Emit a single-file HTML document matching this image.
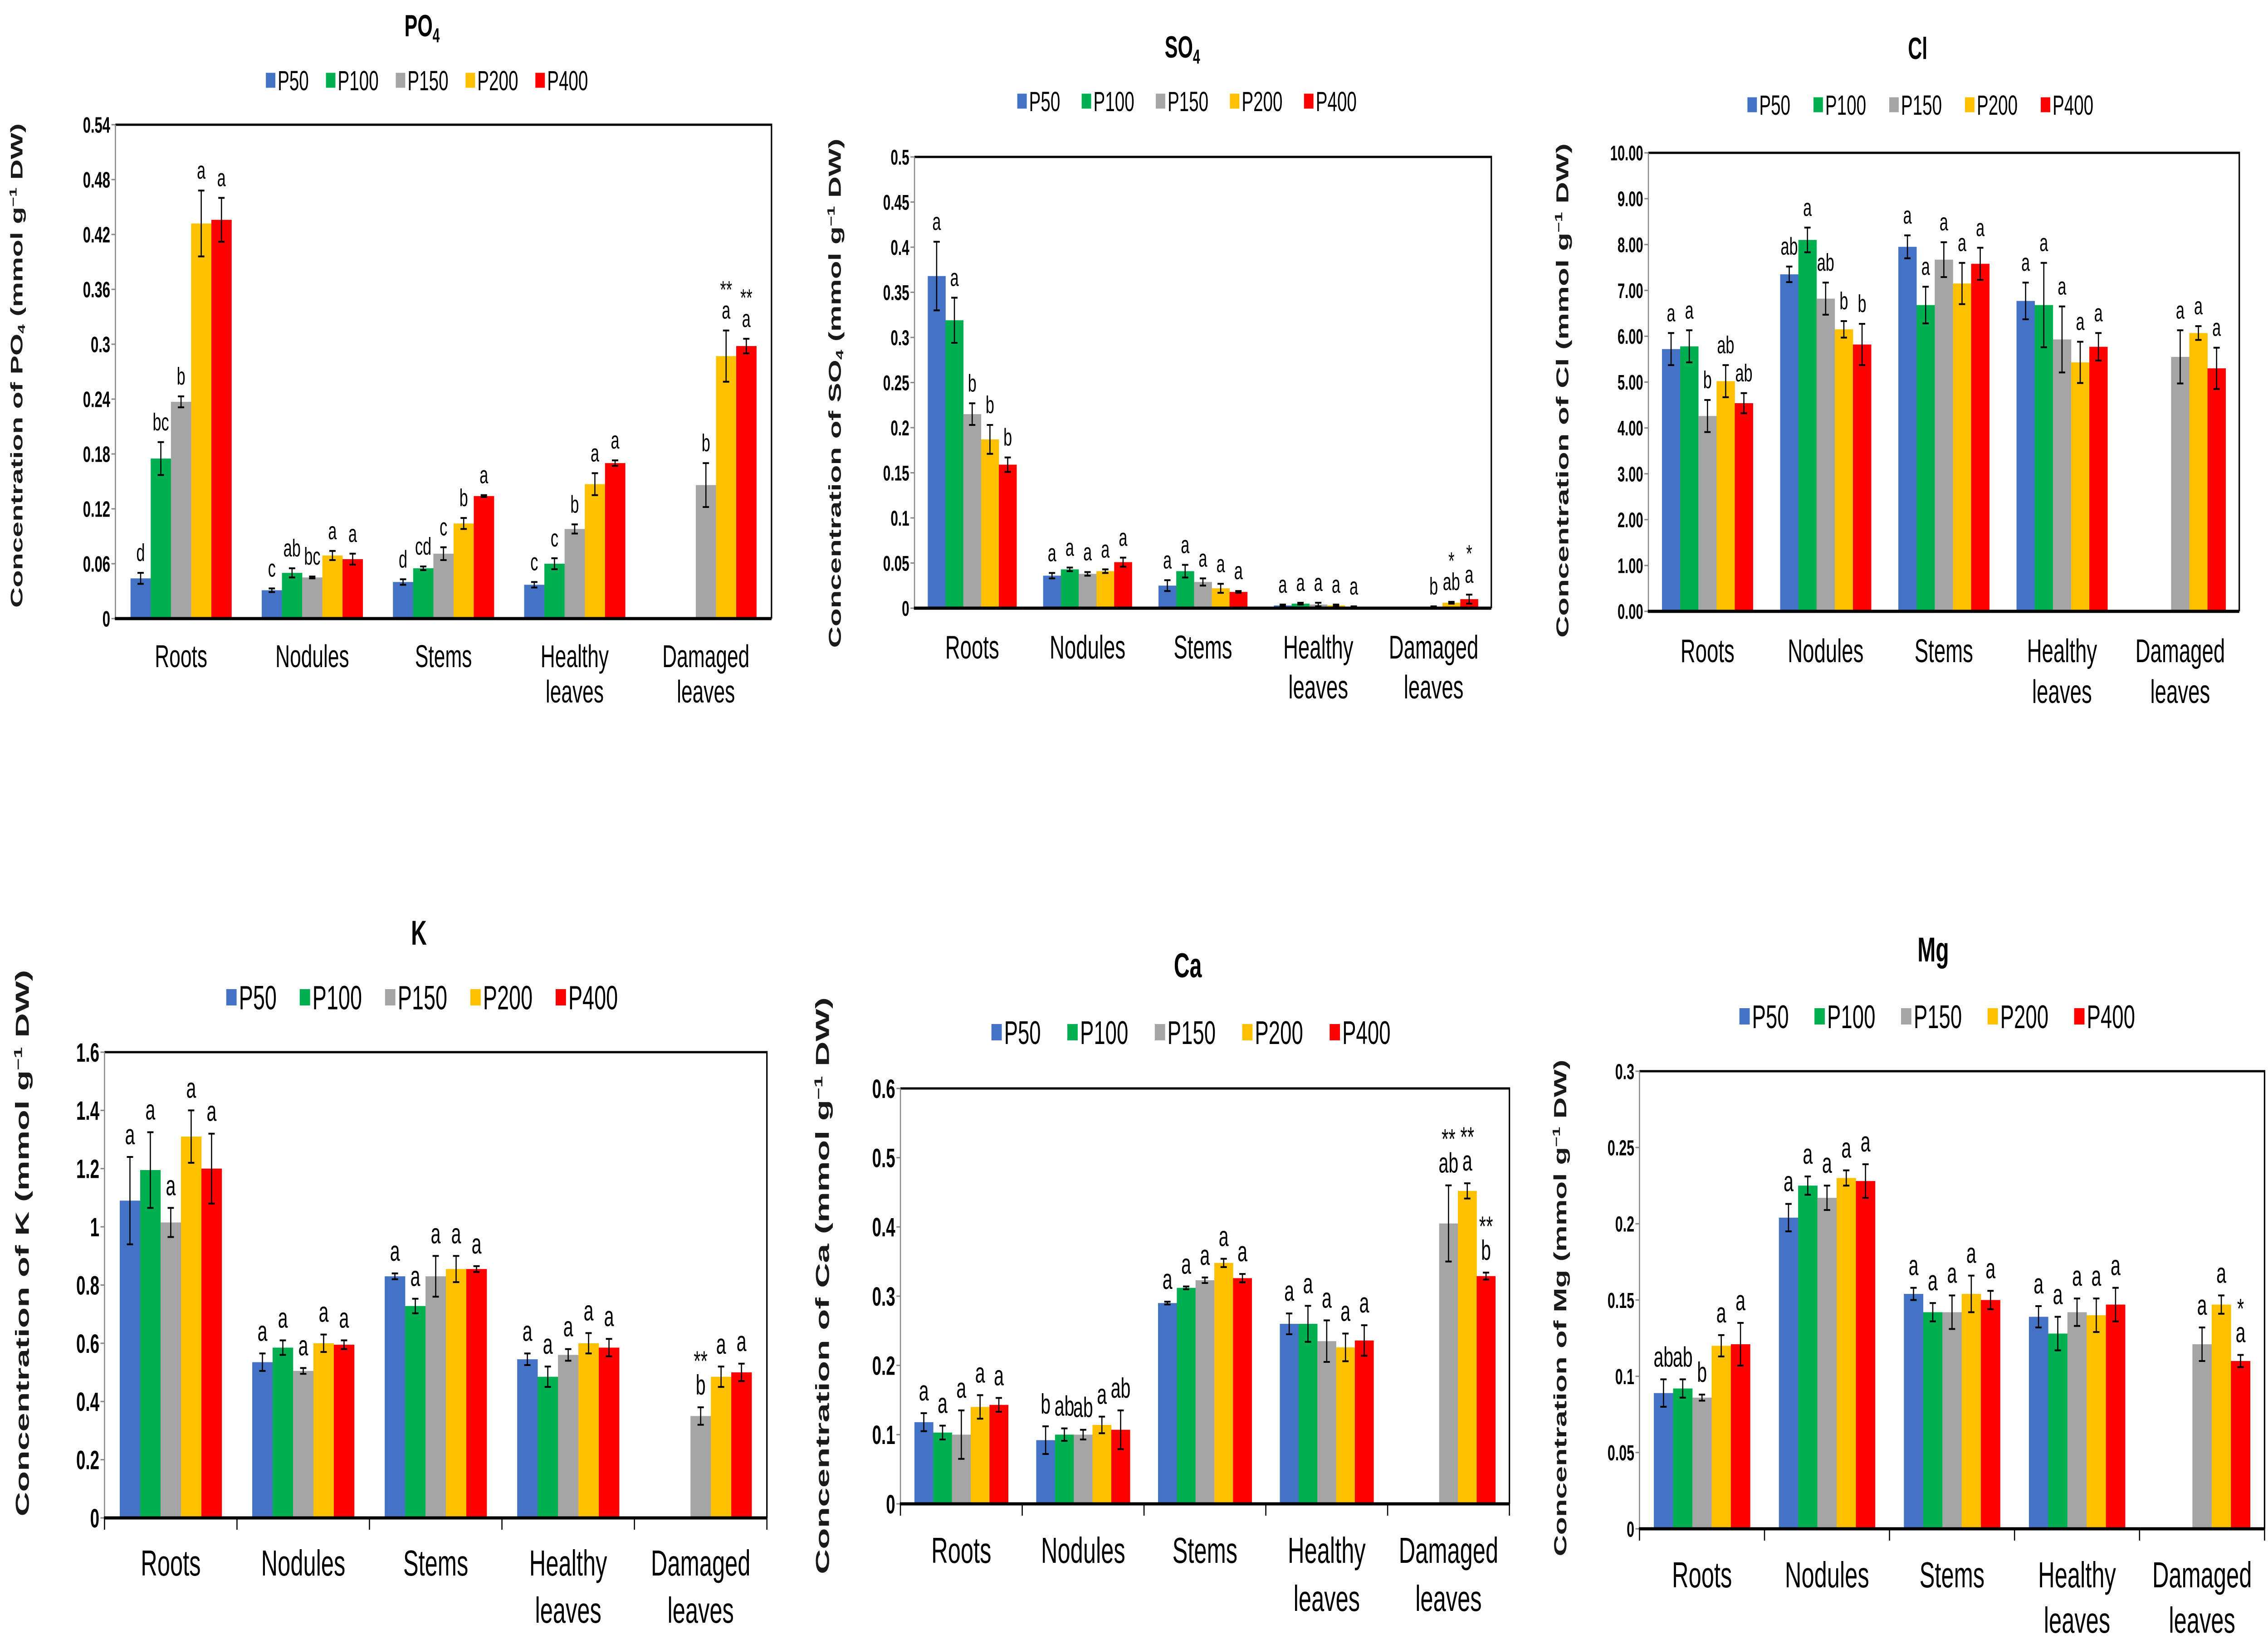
<!DOCTYPE html>
<html><head><meta charset="utf-8"><style>
html,body{margin:0;padding:0;background:#fff;overflow:hidden;width:100%;height:100%}
svg{display:block;position:absolute;left:0;top:0;width:100vw;height:100vh}
text{font-family:"Liberation Sans",Arial,sans-serif}
</style></head><body>
<svg id="fig" xmlns="http://www.w3.org/2000/svg" viewBox="0 0 7899 3625" preserveAspectRatio="none">
<rect x="0" y="0" width="7899" height="3625" fill="#fff"/>
</svg>
<script>
// ---- shared data ----
const categories = [["Roots"],["Nodules"],["Stems"],["Healthy","leaves"],["Damaged","leaves"]];
const seriesNames = ["P50","P100","P150","P200","P400"];
const seriesColors = ["#4472C4","#00B050","#A5A5A5","#FFC000","#FF0000"];

// ---- PO4 ----
const po4Ticks = ["0","0.06","0.12","0.18","0.24","0.3","0.36","0.42","0.48","0.54"];
const po4Values = [[0.044,0.175,0.237,0.432,0.436],[0.031,0.050,0.045,0.069,0.065],[0.040,0.055,0.071,0.104,0.134],[0.037,0.060,0.098,0.147,0.170],[null,null,0.146,0.287,0.298]];
const po4Errors = [[0.006,0.018,0.006,0.036,0.024],[0.002,0.005,0.001,0.005,0.006],[0.003,0.002,0.007,0.006,0.001],[0.003,0.006,0.005,0.012,0.003],[null,null,0.024,0.028,0.008]];
const po4Letters = [["d","bc","b","a","a"],["c","ab","bc","a","a"],["d","cd","c","b","a"],["c","c","b","a","a"],["","","b","a","a"]];
const po4Stars = [["","","","",""],["","","","",""],["","","","",""],["","","","",""],["","","","**","**"]];

// ---- SO4 ----
const so4Ticks = ["0","0.05","0.1","0.15","0.2","0.25","0.3","0.35","0.4","0.45","0.5"];
const so4Values = [[0.368,0.319,0.215,0.187,0.159],[0.036,0.043,0.038,0.041,0.051],[0.025,0.041,0.029,0.022,0.018],[0.003,0.005,0.004,0.003,0.001],[null,null,0.001,0.006,0.010]];
const so4Errors = [[0.038,0.025,0.012,0.016,0.008],[0.003,0.002,0.002,0.002,0.005],[0.006,0.007,0.004,0.005,0.001],[0.001,0.001,0.002,0.001,0.001],[null,null,0.001,0.001,0.005]];
const so4Letters = [["a","a","b","b","b"],["a","a","a","a","a"],["a","a","a","a","a"],["a","a","a","a","a"],["","","b","ab","a"]];
const so4Stars = [["","","","",""],["","","","",""],["","","","",""],["","","","",""],["","","","*","*"]];

// ---- Cl ----
const clTicks = ["0.00","1.00","2.00","3.00","4.00","5.00","6.00","7.00","8.00","9.00","10.00"];
const clValues = [[5.72,5.78,4.26,5.02,4.54],[7.35,8.10,6.82,6.15,5.82],[7.95,6.68,7.67,7.15,7.58],[6.77,6.68,5.93,5.43,5.77],[null,null,5.55,6.07,5.30]];
const clErrors = [[0.35,0.35,0.35,0.35,0.22],[0.17,0.27,0.35,0.18,0.45],[0.25,0.40,0.38,0.45,0.35],[0.40,0.92,0.72,0.45,0.30],[null,null,0.58,0.15,0.45]];
const clLetters = [["a","a","b","ab","ab"],["ab","a","ab","b","b"],["a","a","a","a","a"],["a","a","a","a","a"],["","","a","a","a"]];
const clStars = [["","","","",""],["","","","",""],["","","","",""],["","","","",""],["","","","",""]];

// ---- K ----
const kTicks = ["0","0.2","0.4","0.6","0.8","1","1.2","1.4","1.6"];
const kValues = [[1.09,1.195,1.015,1.31,1.20],[0.535,0.585,0.505,0.60,0.595],[0.83,0.728,0.83,0.855,0.855],[0.545,0.485,0.56,0.60,0.585],[null,null,0.35,0.485,0.50]];
const kErrors = [[0.15,0.13,0.05,0.09,0.12],[0.03,0.025,0.01,0.03,0.015],[0.01,0.025,0.07,0.045,0.01],[0.02,0.035,0.02,0.035,0.03],[null,null,0.03,0.035,0.03]];
const kLetters = [["a","a","a","a","a"],["a","a","a","a","a"],["a","a","a","a","a"],["a","a","a","a","a"],["","","b","a","a"]];
const kStars = [["","","","",""],["","","","",""],["","","","",""],["","","","",""],["","","**","",""]];

// ---- Ca ----
const caTicks = ["0","0.1","0.2","0.3","0.4","0.5","0.6"];
const caValues = [[0.118,0.103,0.100,0.140,0.143],[0.092,0.100,0.100,0.114,0.107],[0.290,0.312,0.323,0.348,0.326],[0.260,0.260,0.235,0.226,0.236],[null,null,0.405,0.452,0.329]];
const caErrors = [[0.013,0.010,0.035,0.017,0.010],[0.020,0.009,0.007,0.012,0.028],[0.002,0.002,0.004,0.006,0.006],[0.015,0.026,0.030,0.020,0.022],[null,null,0.055,0.011,0.005]];
const caLetters = [["a","a","a","a","a"],["b","ab","ab","a","ab"],["a","a","a","a","a"],["a","a","a","a","a"],["","","ab","a","b"]];
const caStars = [["","","","",""],["","","","",""],["","","","",""],["","","","",""],["","","**","**","**"]];

// ---- Mg ----
const mgTicks = ["0","0.05","0.1","0.15","0.2","0.25","0.3"];
const mgValues = [[0.089,0.092,0.086,0.120,0.121],[0.204,0.225,0.217,0.230,0.228],[0.154,0.142,0.142,0.154,0.150],[0.139,0.128,0.142,0.140,0.147],[null,null,0.121,0.147,0.110]];
const mgErrors = [[0.009,0.006,0.002,0.007,0.014],[0.009,0.006,0.008,0.005,0.011],[0.004,0.006,0.011,0.012,0.006],[0.007,0.011,0.009,0.011,0.011],[null,null,0.011,0.006,0.004]];
const mgLetters = [["ab","ab","b","a","a"],["a","a","a","a","a"],["a","a","a","a","a"],["a","a","a","a","a"],["","","a","a","a"]];
const mgStars = [["","","","",""],["","","","",""],["","","","",""],["","","","",""],["","","","","*"]];

const NS = "http://www.w3.org/2000/svg";
const svg = document.getElementById("fig");
function mk(tag, attrs, parent){
  const e = document.createElementNS(NS, tag);
  for (const k in attrs) e.setAttribute(k, attrs[k]);
  (parent||svg).appendChild(e);
  return e;
}

function drawChart(c, ticks, values, errors, letters, stars){
  const g = mk("g", {});
  
  
  const ymax = parseFloat(ticks[ticks.length-1]);
  const yS = v => c.B - (v / ymax) * (c.B - c.T);
  const catW = (c.R - c.L) / categories.length;
  const groupW = catW * 0.77;
  const barW = groupW / seriesNames.length;
  const xS = (ci, si) => c.L + catW*ci + (catW-groupW)/2 + barW*si;

  const t = mk("text", {x:c.titleX, y:c.titleY, "text-anchor":"middle", "font-size":c.titleFont, "font-weight":"bold", fill:"#000"}, g);
  
  
  t.textContent = c.title;
  if (c.sub){ const s = mk("tspan", {"font-size":c.titleFont*0.65, dy:c.titleFont*0.2}, t); s.textContent = c.sub; }

  const lg = mk("g", {}, g);
  
  
  const items = [];
  let total = 0;
  seriesNames.forEach((n,i)=>{
    const it = mk("g", {}, lg);
    
    
    const sq = mk("rect", {width:c.sq, height:c.sq, fill:seriesColors[i]}, it);
    const tx = mk("text", {"font-size":c.legFont, fill:"#000"}, it);
    tx.textContent = n;
    const w = tx.getComputedTextLength();
    items.push({sq, tx, w});
    total += c.sq + 8 + w;
  });
  const gap = (c.legR - c.legL - total) / (seriesNames.length - 1);
  let lx = c.legL;
  items.forEach(o=>{
    o.sq.setAttribute("x", lx); o.sq.setAttribute("y", c.legY - c.sq/2);
    o.tx.setAttribute("x", lx + c.sq + 8); o.tx.setAttribute("y", c.legY + c.legFont*0.36);
    lx += c.sq + 8 + o.w + gap;
  });

  ticks.forEach((tk)=>{
    const y = yS(parseFloat(tk));
    mk("line", {x1:c.L-14, x2:c.L, y1:y, y2:y, stroke:"#888", "stroke-width":3}, g);
    const tl = mk("text", {x:c.L-18, y:y + c.tickFont*0.36, "text-anchor":"end", "font-size":c.tickFont, "font-weight":"bold", fill:"#000"}, g);
    
    
    tl.textContent = tk;
  });

  if (c.frame){
    mk("polyline", {points:`${c.L},${c.T} ${c.R},${c.T} ${c.R},${c.B}`, fill:"none", stroke:"#000", "stroke-width":5}, g);
  }
  mk("line", {x1:c.L, x2:c.L, y1:c.T, y2:c.B, stroke:"#888", "stroke-width":4}, g);

  values.forEach((row, ci)=>{
    row.forEach((v, si)=>{
      if (v === null) return;
      const x = xS(ci, si);
      const y = yS(v);
      const r = mk("rect", {x:x, y:y, width:barW+0.5, height:c.B - y, fill:seriesColors[si]}, g);
      
      
      const e = errors[ci][si];
      const cx = x + barW/2;
      const yt = yS(v + e), yb = yS(Math.max(0, v - e));
      const eg = mk("g", {stroke:"#000", "stroke-width":4}, g);
      
      
      mk("line", {x1:cx, x2:cx, y1:yt, y2:yb}, eg);
      mk("line", {x1:cx-11, x2:cx+11, y1:yt, y2:yt}, eg);
      mk("line", {x1:cx-11, x2:cx+11, y1:yb, y2:yb}, eg);
      const lt = mk("text", {x:cx, y:yt - c.letGap, "text-anchor":"middle", "font-size":c.letFont, fill:"#000"}, g);
      
      
      lt.textContent = letters[ci][si];
      if (stars[ci][si]){
        const st = mk("text", {x:cx, y:yt - c.letGap - c.letFont*0.85, "text-anchor":"middle", "font-size":c.letFont, fill:"#000"}, g);
        
        
        st.textContent = stars[ci][si];
      }
    });
  });

  mk("line", {x1:c.L-2, x2:c.R, y1:c.B, y2:c.B, stroke:"#000", "stroke-width":7}, g);
  if (c.catTicks){
    for (let i=0;i<=categories.length;i++){
      const x = c.L + catW*i;
      mk("line", {x1:x, x2:x, y1:c.B, y2:c.B+26, stroke:"#000", "stroke-width":4}, g);
    }
  }
  categories.forEach((lines, ci)=>{
    const cx = c.L + catW*(ci+0.5);
    lines.forEach((ln, li)=>{
      const ct = mk("text", {x:cx, y:c.catY + li*c.catDy, "text-anchor":"middle", "font-size":c.catFont, fill:"#000"}, g);
      
      
      ct.textContent = ln;
    });
  });

  const yt = mk("text", {transform:`translate(${c.ytX},${c.ytY}) rotate(-90)`, "text-anchor":"middle", "font-size":c.ytFont, "font-weight":"bold", fill:"#1a1a1a", textLength:c.ytLen, lengthAdjust:"spacingAndGlyphs"}, g);
  
  
  const p1 = mk("tspan", {}, yt); p1.textContent = "Concentration of " + c.title;
  if (c.sub){ const p2 = mk("tspan", {"font-size":c.ytFont*0.6, dy:c.ytFont*0.15}, yt); p2.textContent = c.sub; }
  const p3 = mk("tspan", {dy: c.sub ? -c.ytFont*0.15 : 0}, yt); p3.textContent = " (mmol g";
  const p4 = mk("tspan", {"font-size":c.ytFont*0.6, dy:-c.ytFont*0.35}, yt); p4.textContent = "\u22121";
  const p5 = mk("tspan", {dy:c.ytFont*0.35}, yt); p5.textContent = " DW)";
}

drawChart({id:"po4", title:"PO", sub:"4", L:402, R:2687, T:275, B:1364, titleX:1470, titleY:80, titleFont:68,
  legL:926, legR:2048, legY:177, legFont:61, sq:33, tickFont:49, frame:true, catTicks:false,
  catY:1471, catDy:78, catFont:70, letFont:54, letGap:26, ytX:78, ytY:806, ytFont:58, ytLen:1068},
  po4Ticks, po4Values, po4Errors, po4Letters, po4Stars);

drawChart({id:"so4", title:"SO", sub:"4", L:3185, R:5194, T:346, B:1341, titleX:4118, titleY:127, titleFont:68,
  legL:3543, legR:4725, legY:223, legFont:61, sq:33, tickFont:47, frame:true, catTicks:false,
  catY:1452, catDy:88, catFont:72, letFont:54, letGap:26, ytX:2928, ytY:867, ytFont:60, ytLen:1123},
  so4Ticks, so4Values, so4Errors, so4Letters, so4Stars);

drawChart({id:"cl", title:"Cl", sub:"", L:5741, R:7799, T:337, B:1348, titleX:6679, titleY:130, titleFont:68,
  legL:6086, legR:7291, legY:231, legFont:61, sq:33, tickFont:46, frame:true, catTicks:false,
  catY:1460, catDy:90, catFont:72, letFont:54, letGap:26, ytX:5462, ytY:861, ytFont:60, ytLen:1090},
  clTicks, clValues, clErrors, clLetters, clStars);

drawChart({id:"k", title:"K", sub:"", L:364, R:2671, T:2320, B:3347, titleX:1459, titleY:2083, titleFont:76,
  legL:788, legR:2152, legY:2199, legFont:74, sq:36, tickFont:58, frame:true, catTicks:true,
  catY:3474, catDy:104, catFont:80, letFont:62, letGap:28, ytX:100, ytY:2741, ytFont:66, ytLen:1205},
  kTicks, kValues, kErrors, kLetters, kStars);

drawChart({id:"ca", title:"Ca", sub:"", L:3136, R:5257, T:2400, B:3316, titleX:4137, titleY:2155, titleFont:76,
  legL:3453, legR:4843, legY:2276, legFont:72, sq:36, tickFont:58, frame:true, catTicks:true,
  catY:3446, catDy:106, catFont:80, letFont:62, letGap:28, ytX:2887, ytY:2835, ytFont:66, ytLen:1272},
  caTicks, caValues, caErrors, caLetters, caStars);

drawChart({id:"mg", title:"Mg", sub:"", L:5710, R:7887, T:2362, B:3371, titleX:6733, titleY:2120, titleFont:76,
  legL:6058, legR:7436, legY:2241, legFont:72, sq:36, tickFont:48, frame:true, catTicks:true,
  catY:3500, catDy:100, catFont:80, letFont:62, letGap:28, ytX:5455, ytY:2884, ytFont:62, ytLen:1095},
  mgTicks, mgValues, mgErrors, mgLetters, mgStars);
</script>
</body></html>
